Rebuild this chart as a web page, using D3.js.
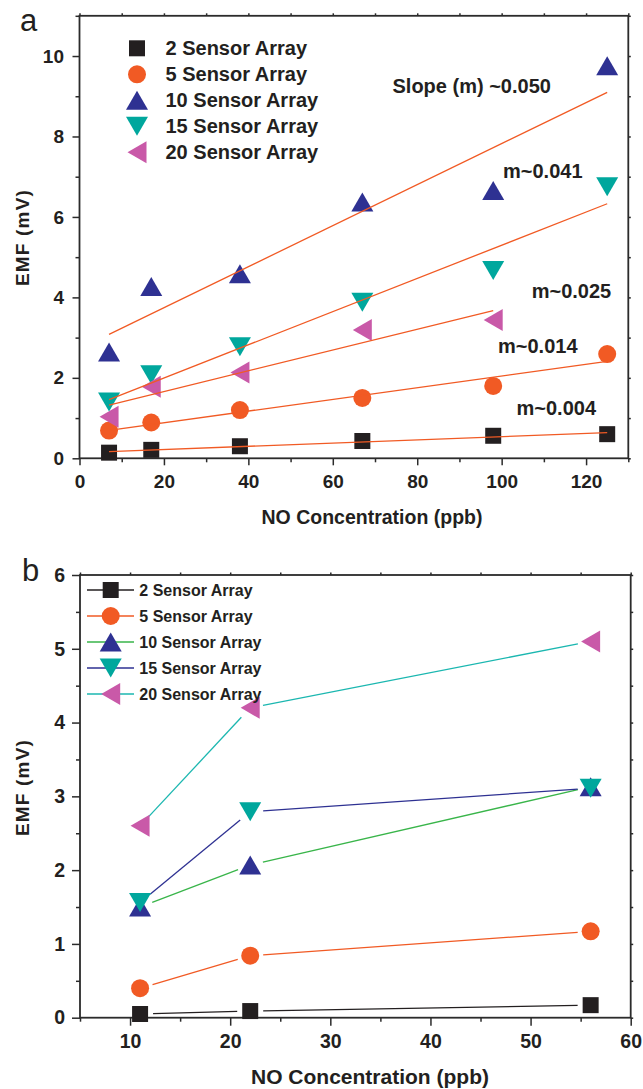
<!DOCTYPE html>
<html>
<head>
<meta charset="utf-8">
<script src="https://cdn.jsdelivr.net/npm/d3@7/dist/d3.min.js"></script>
<style>
  html, body { margin: 0; padding: 0; background: #fff; }
  svg { display: block; font-family: "Liberation Sans", Arial, sans-serif; }
</style>
</head>
<body>
<svg id="chart" width="643" height="1089"></svg>
<script>
// ---------- Panel a data ----------
const concA = [7, 17, 38, 67, 98, 125];
const a2  = [0.14, 0.21, 0.30, 0.43, 0.56, 0.60];
const a5  = [0.69, 0.89, 1.20, 1.50, 1.80, 2.59];
const a10 = [2.64, 4.27, 4.59, 6.37, 6.66, 9.76];
const a15 = [1.40, 2.08, 2.77, 3.88, 4.67, 6.75];
const a20 = [1.03, 1.78, 2.13, 3.19, 3.44];
const slopeLabels = ["m~0.004", "m~0.014", "Slope (m) ~0.050", "m~0.041", "m~0.025"];

// ---------- Panel b data ----------
const concB = [11, 22, 56];
const b2  = [0.05, 0.09, 0.17];
const b5  = [0.40, 0.84, 1.17];
const b10 = [1.50, 2.07, 3.13];
const b15 = [1.56, 2.79, 3.11];
const b20 = [2.60, 4.20, 5.10];

const seriesNames = ["2 Sensor Array", "5 Sensor Array", "10 Sensor Array", "15 Sensor Array", "20 Sensor Array"];
const xTicksA = [0, 20, 40, 60, 80, 100, 120];
const yTicksA = [0, 2, 4, 6, 8, 10];
const xTicksB = [10, 20, 30, 40, 50, 60];
const yTicksB = [0, 1, 2, 3, 4, 5, 6];

// ---------- styles ----------
const symbols = ["square", "circle", "up", "down", "left"];
const markerColors = ["#231f20", "#f15a24", "#2e3192", "#00a79d", "#c959a8"];
const fitColor = "#f15a24";
const lineColorsB = ["#231f20", "#f15a24", "#39b54a", "#2e3192", "#1bb7b0"];
const axisColor = "#2b2b2b";
const textColor = "#231f20";

const svg = d3.select("#chart");

function symbolPath(type) {
  switch (type) {
    case "square": return "M-8,-8H8V8H-8Z";
    case "circle": return "M9,0A9,9 0 1,1 -9,0A9,9 0 1,1 9,0Z";
    case "up": return "M0,-9.5L11,9.5L-11,9.5Z";
    case "down": return "M0,9.5L11,-9.5L-11,-9.5Z";
    case "left": return "M-9.5,0L9.5,-11L9.5,11Z";
  }
}
function drawSymbol(g, type, cx, cy, color) {
  g.append("path").attr("d", symbolPath(type))
    .attr("transform", `translate(${cx},${cy})`)
    .attr("fill", color);
}

function linreg(xs, ys) {
  const n = xs.length;
  const mx = d3.mean(xs), my = d3.mean(ys);
  let sxy = 0, sxx = 0;
  for (let i = 0; i < n; i++) { sxy += (xs[i]-mx)*(ys[i]-my); sxx += (xs[i]-mx)**2; }
  const m = sxy / sxx;
  return { m, b: my - m*mx };
}

function drawFrame(x, y, opts) {
  const g = svg.append("g");
  const [x0, x1] = x.range(), [y0, y1] = y.range();
  const fmt = d3.format("d");
  const bottom = g.append("g").attr("transform", `translate(0,${y0})`);
  bottom.call(d3.axisBottom(x).tickValues(opts.xMinor).tickFormat("").tickSizeInner(4).tickSizeOuter(0));
  bottom.select(".domain").remove();
  const bottomMaj = g.append("g").attr("transform", `translate(0,${y0})`);
  bottomMaj.call(d3.axisBottom(x).tickValues(opts.xMajor).tickFormat(fmt).tickSizeInner(opts.tick).tickSizeOuter(0).tickPadding(opts.xPad));
  bottomMaj.select(".domain").remove();
  bottomMaj.selectAll("text").attr("font-size", opts.tickFont).attr("font-weight", "bold").attr("fill", textColor)
    .attr("font-family", "Liberation Sans, Arial, sans-serif");

  const left = g.append("g").attr("transform", `translate(${x0},0)`);
  left.call(d3.axisLeft(y).tickValues(opts.yMinor).tickFormat("").tickSizeInner(4).tickSizeOuter(0));
  left.select(".domain").remove();
  const leftMaj = g.append("g").attr("transform", `translate(${x0},0)`);
  leftMaj.call(d3.axisLeft(y).tickValues(opts.yMajor).tickFormat(fmt).tickSizeInner(opts.tick).tickSizeOuter(0).tickPadding(opts.yPad));
  leftMaj.select(".domain").remove();
  leftMaj.selectAll("text").attr("font-size", opts.tickFont).attr("font-weight", "bold").attr("fill", textColor)
    .attr("font-family", "Liberation Sans, Arial, sans-serif");

  const top = g.append("g").attr("transform", `translate(0,${y1})`);
  top.call(d3.axisTop(x).tickValues(opts.xMajor.concat(opts.xMinor)).tickFormat("").tickSizeInner(2.5).tickSizeOuter(0));
  top.select(".domain").remove();
  const right = g.append("g").attr("transform", `translate(${x1},0)`);
  right.call(d3.axisRight(y).tickValues(opts.yMajor.concat(opts.yMinor)).tickFormat("").tickSizeInner(2.5).tickSizeOuter(0));
  right.select(".domain").remove();

  g.selectAll(".tick line").attr("stroke", axisColor).attr("stroke-width", 1.5);
  g.append("rect").attr("x", x0).attr("y", y1).attr("width", x1 - x0).attr("height", y0 - y1)
    .attr("fill", "none").attr("stroke", axisColor).attr("stroke-width", 1.8);
}

// ================= Panel a =================
const xA = d3.scaleLinear().domain([0, 130]).range([79.5, 628.3]);
const yA = d3.scaleLinear().domain([0, 11]).range([458.3, 15.8]);

drawFrame(xA, yA, {
  xMajor: xTicksA, xMinor: [10, 30, 50, 70, 90, 110, 130],
  yMajor: yTicksA, yMinor: [1, 3, 5, 7, 9, 11],
  tick: 7, xPad: 9, yPad: 8.5, tickFont: 19
});

const seriesA = [a2, a5, a10, a15, a20];
const gA = svg.append("g");
seriesA.forEach((vals, s) => {
  vals.forEach((v, i) => drawSymbol(gA, symbols[s], xA(concA[i]), yA(v), markerColors[s]));
});
seriesA.forEach((vals, s) => {
  const xs = concA.slice(0, vals.length);
  const r = linreg(xs, vals);
  const xa = xs[0], xb = xs[xs.length - 1];
  gA.append("line")
    .attr("x1", xA(xa)).attr("y1", yA(r.m*xa + r.b))
    .attr("x2", xA(xb)).attr("y2", yA(r.m*xb + r.b))
    .attr("stroke", fitColor).attr("stroke-width", 1.3);
});
const slopePos = [[516.5, 415], [498, 353], [392.5, 92.7], [503, 178], [531.7, 298]];
slopeLabels.forEach((t, i) => {
  svg.append("text").attr("x", slopePos[i][0]).attr("y", slopePos[i][1])
    .attr("font-size", 20).attr("font-weight", "bold").attr("fill", textColor).text(t);
});
seriesNames.forEach((name, i) => {
  const cy = 48.3 + i * 26;
  drawSymbol(svg, symbols[i], 137, cy, markerColors[i]);
  svg.append("text").attr("x", 165.5).attr("y", cy + 7)
    .attr("font-size", 20).attr("font-weight", "bold").attr("fill", textColor).text(name);
});
svg.append("text").attr("x", 372).attr("y", 524).attr("text-anchor", "middle")
  .attr("font-size", 19.5).attr("font-weight", "bold").attr("fill", textColor).text("NO Concentration (ppb)");
svg.append("text").attr("transform", "translate(29,237.5) rotate(-90)").attr("text-anchor", "middle")
  .attr("font-size", 19).attr("font-weight", "bold").attr("letter-spacing", 1.2).attr("fill", textColor).text("EMF (mV)");
svg.append("text").attr("x", 20).attr("y", 31).attr("font-size", 31).attr("fill", textColor).text("a");

// ================= Panel b =================
const xB = d3.scaleLinear().domain([5, 60]).range([80, 630.7]);
const yB = d3.scaleLinear().domain([0, 6]).range([1017.7, 575]);

drawFrame(xB, yB, {
  xMajor: xTicksB, xMinor: [5, 15, 25, 35, 45, 55],
  yMajor: yTicksB, yMinor: [0.5, 1.5, 2.5, 3.5, 4.5, 5.5],
  tick: 8, xPad: 8.5, yPad: 7, tickFont: 19.5
});

const seriesB = [b2, b5, b10, b15, b20];
const gB = svg.append("g");
const gap = 13;
seriesB.forEach((vals, s) => {
  for (let i = 0; i < vals.length - 1; i++) {
    const p1 = [xB(concB[i]), yB(vals[i])], p2 = [xB(concB[i+1]), yB(vals[i+1])];
    const dx = p2[0]-p1[0], dy = p2[1]-p1[1], L = Math.hypot(dx, dy);
    const ux = dx/L, uy = dy/L;
    gB.append("line")
      .attr("x1", p1[0] + ux*gap).attr("y1", p1[1] + uy*gap)
      .attr("x2", p2[0] - ux*gap).attr("y2", p2[1] - uy*gap)
      .attr("stroke", lineColorsB[s]).attr("stroke-width", 1.3);
  }
});
seriesB.forEach((vals, s) => {
  vals.forEach((v, i) => drawSymbol(gB, symbols[s], xB(concB[i]), yB(v), markerColors[s]));
});
seriesNames.forEach((name, i) => {
  const cy = 590 + i * 26;
  svg.append("line").attr("x1", 87).attr("x2", 134).attr("y1", cy).attr("y2", cy)
    .attr("stroke", lineColorsB[i]).attr("stroke-width", 1.3);
  drawSymbol(svg, symbols[i], 110.7, cy, markerColors[i]);
  svg.append("text").attr("x", 139.3).attr("y", cy + 5.8)
    .attr("font-size", 16).attr("font-weight", "bold").attr("fill", textColor).text(name);
});
svg.append("text").attr("x", 370).attr("y", 1084).attr("text-anchor", "middle")
  .attr("font-size", 21).attr("font-weight", "bold").attr("fill", textColor).text("NO Concentration (ppb)");
svg.append("text").attr("transform", "translate(29,787.5) rotate(-90)").attr("text-anchor", "middle")
  .attr("font-size", 19).attr("font-weight", "bold").attr("letter-spacing", 1.2).attr("fill", textColor).text("EMF (mV)");
svg.append("text").attr("x", 22).attr("y", 580.7).attr("font-size", 31).attr("fill", textColor).text("b");
</script>
</body>
</html>
